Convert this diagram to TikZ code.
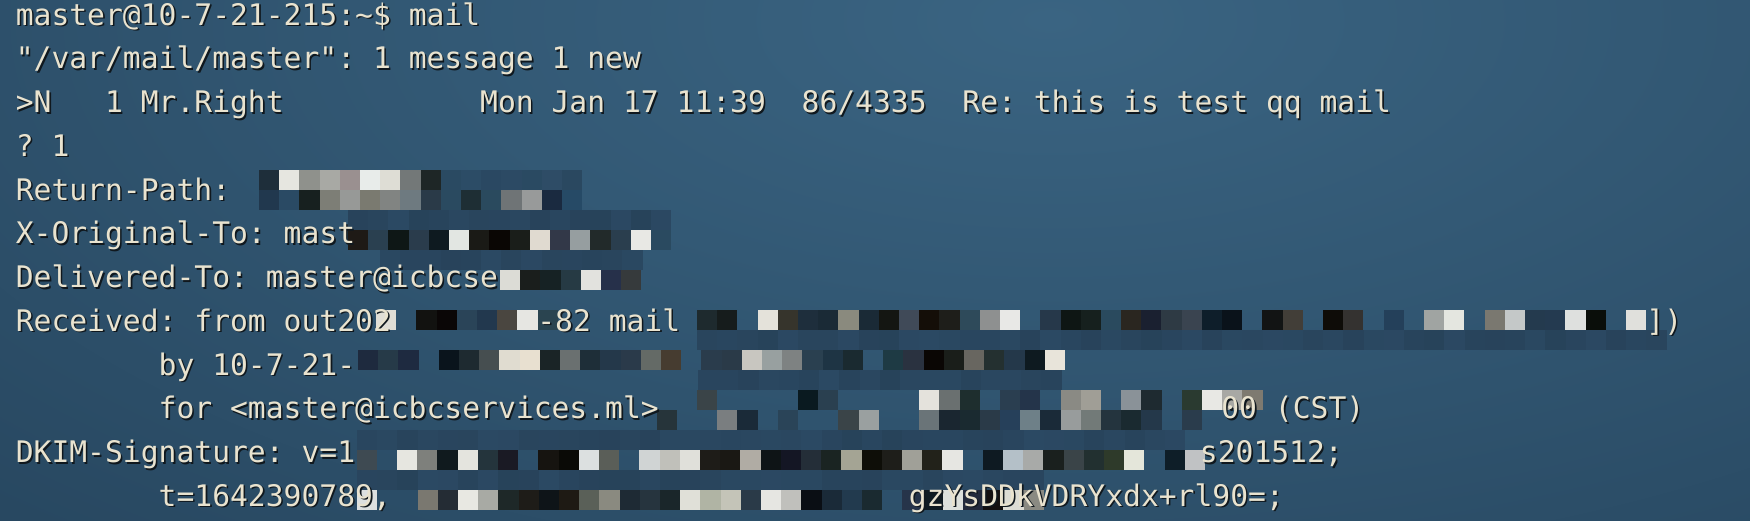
\documentclass[tikz,border=0pt]{standalone}
\usepackage{fontspec}
\setmonofont{DejaVu Sans Mono}

\definecolor{bglight}{HTML}{3A6482}
\definecolor{bgdark}{HTML}{1D374D}
\definecolor{cellblue}{HTML}{2B4963}
\definecolor{termfg}{HTML}{E9E3CF}
\definecolor{termshade}{HTML}{10181E}

\newcommand{\termfont}{\ttfamily\fontsize{29.67}{32}\selectfont}

\tikzset{
  txtmain/.style={anchor=base west, inner sep=0pt, text=termfg, font=\termfont},
  txtshade/.style={anchor=base west, inner sep=0pt, text=termshade, font=\termfont},
}

% one strip of mosaic cells, x = skip
\def\skipcell{x}
\newcommand{\mosaicrow}[3]{%
  \foreach \cc [count=\ci from 0] in {#3} {%
    \ifx\cc\skipcell\else
      \definecolor{cellc}{HTML}{\cc}%
      \fill[cellc] ({#1+20.2*\ci},#2) rectangle ++(20.2,20);
    \fi}}
% faint cells close to the background
\newcommand{\subtlerow}[3]{%
  \foreach \ci in {1,...,#3} {%
    \pgfmathrandominteger{\shd}{91}{100}%
    \fill[cellblue!\shd!black] ({#1+20.2*(\ci-1)},#2) rectangle ++(20.2,20);}}
% terminal text: name, column, line, text
\newcommand{\termtxt}[4]{%
  \node[txtshade] (#1s) at ({15.6+17.86*#2+1.6},{25+43.75*(#3-1)+1.6}) {#4};
  \node[txtmain] (#1) at ({15.6+17.86*#2},{25+43.75*(#3-1)}) {#4};}

\begin{document}
\begin{tikzpicture}[x=1pt, y=-1pt]
  \useasboundingbox (0,0) rectangle (1750,520);
  \clip (0,0) rectangle (1750,520);
  \pgfmathsetseed{11}

  % background
  \fill[bgdark] (0,0) rectangle (1750,520);
  \fill[inner color=bglight, outer color=bgdark] (1050,20) ellipse (2400 and 1100);

  % faint mosaic
  \subtlerow{348}{210}{16}
  \subtlerow{380}{250}{13}
  \subtlerow{697}{330}{48}
  \subtlerow{698}{370}{18}
  \subtlerow{357}{430}{41}
  \subtlerow{357}{470}{34}

  % mosaic
  \mosaicrow{259}{170}{1E2E3A, E6E6E0, 8F918C, A8A9A4, 9A9090, E8ECEA, DEDDD5, 737878, 1E2626,
    2A4A62, 2C4C66, 2A4862, 2C4A64, 2A4A62, 2E4C66, 2A4860}
  \mosaicrow{259}{190}{21384E, 2A4A64, 17201F, 7D7E76, 979997, 7A7A70, 818482, 6E7A80, 2A3A48,
    2A4A60, 1E2E34, 2A4A5E, 6F7476, 989A9A, 1A2A40, 264A66}
  \mosaicrow{348}{230}{1E1A16, 2A4050, 0E1716, 2A3C4C, 0E1A20, E2E6E2, 1A1A16, 0A0604, 1A1E1A,
    E0DAD0, 323848, 969EA0, 222A2A, 2A3E4E, E8E8E4, 2A4A60}
  \mosaicrow{500}{270}{DCDCD6, 1A1E1C, 162224, 263A44, E2E2DE, 26304A, 363A3C}
  \mosaicrow{376}{310}{E0DED6, x, 121210, 0A0606, 2A4458, 22384E, 4A4640, E6E6E2, 2A4450}
  \mosaicrow{697}{310}{1E2A2E, 161C1C, x, E4E2DA, 36342C, 1E2E3C, 1A2A36, 8A8A7E, 1A2A36, 141612,
    404A58, 140E08, 1E1E1A, 2E4A5A, 8E9090, E8E8E6, x, 26384A, 0E1614, 16201E, 2A4A5E}
  \mosaicrow{1121}{310}{2A2620, 1A2030, 2E3A44, 3A4450, 0E1E2A, 0A121A, x, 121414, 423E38, x,
    0E0C08, 343230, x, 24405A, x, A0A4A2, E4E6E0, x, 7A7870, C4C8C8, 243A4E, 243A50, DEE0DE,
    0A0E0A, x, E0E0DC}
  \mosaicrow{358}{350}{1E2A3E, 263A48, 1E2A40, x, 0A141C, 1E2A30, 464E50, E0DCD0, E8E0D0, 1A2426,
    6A7070, 1E2E38, 24384A, 2A3A4A, 646A66, 463C30, x, 2A3C4C, 2A3A48, C8C6C0, 98A0A0, 7E8282,
    2A4050, 1E3444, 1A2A30, x, 1E3A44, 2A3240, 0A0604, 1A1E1A, 686660, 243030, 24384A, 0E1A20, E8E4DA}
  \mosaicrow{697}{390}{3A4448, x, x, x, x, 0A1A20, 2A4050, x, x, x, x, E4E2DC, 6A7070, 1E2E2E, x,
    2A3E50, 24344A, x, 8A8A84, A09E96, x, 8A9298, 1E2A30, x, 2A3A30, E8E8E4, A8A8A4, 7E7A70}
  \mosaicrow{656.5}{410}{26343A, x, x, 7A7E80, 1A2A38, x, 2A4458, x, x, 3A4448, 9AA0A0, x, x,
    6A7478, 1A2630, 1A2A30, 2A3A48, 26405A, 6E8088, 1A2A38, 989C9C, 727A78, 24343E, 1A2A30,
    24384A, x, 2A3C4C}
  \mosaicrow{356.6}{450}{3E4A52, x, E6E6E0, 7E807C, 101A1E, E4E4DE, 24343C, 1A1A24, x, 161410,
    0A0A06, DCE0E0, 5A5E58, x, D0D4D4, C0C0BA, E0E0DA, 1E1C18, 1A1814, B0ACA4, 0E1416, 141624,
    242E38, 1A2422, A4A494, 0E0E08, 1E1E1A, A0A098, 22221A, E6E6E2, x, 0E1A22, B4C0C8, A8AAA8,
    1A201E, 3A4448, 223030, 2E3A2A, E4E6DA, x, 0E1E28, C0C2C4}
  \mosaicrow{357}{490}{DCE0E0, x, x, 7A7870, 242C34, E8E8E2, A8AAA4, 1E2828, 1E1C18, 0E1418,
    1E1A14, 5A6058, 8A8A80, 1E2A34, 26343E, 1A262A, E0E0D8, B0B4A4, C4C4B8, 2A3A48, E6E6E2,
    C0C0BC, 0A0E14, 1A2A38, 223A4E, 1A2A30, x, 26344A, 0E1A22, DCE0DC, 222A3C, 141010, DCDCD4, 8A8A82}

  % terminal lines
  \termtxt{prompt}{0}{1}{master@10-7-21-215:\textasciitilde\$ mail}
  \termtxt{mbox}{0}{2}{"/var/mail/master": 1 message 1 new}
  \termtxt{hflag}{0}{3}{>N}
  \termtxt{hnum}{5}{3}{1 Mr.Right}
  \termtxt{hdate}{26}{3}{Mon Jan 17 11:39}
  \termtxt{hsize}{44}{3}{86/4335}
  \termtxt{hsubj}{53}{3}{Re: this is test qq mail}
  \termtxt{cmd}{0}{4}{? 1}
  \termtxt{rpath}{0}{5}{Return-Path:}
  \termtxt{xorig}{0}{6}{X-Original-To: mast}
  \termtxt{deliv}{0}{7}{Delivered-To: master@icbcse}
  \termtxt{recv}{0}{8}{Received: from out202}
  \termtxt{recvhost}{29.2}{8}{-82 mail}
  \termtxt{recvend}{91.3}{8}{])}
  \termtxt{recvby}{8}{9}{by 10-7-21-}
  \termtxt{recvfor}{8}{10}{for <master@icbcservices.ml>}
  \termtxt{recvzone}{67.5}{10}{00 (CST)}
  \termtxt{dkim}{0}{11}{DKIM-Signature: v=1}
  \termtxt{dkimsel}{66.3}{11}{s201512;}
  \termtxt{dkimt}{8}{12}{t=1642390789,}
  \termtxt{dkimbh}{50}{12}{gzYsDDkVDRYxdx+rl90=;}
\end{tikzpicture}
\end{document}
